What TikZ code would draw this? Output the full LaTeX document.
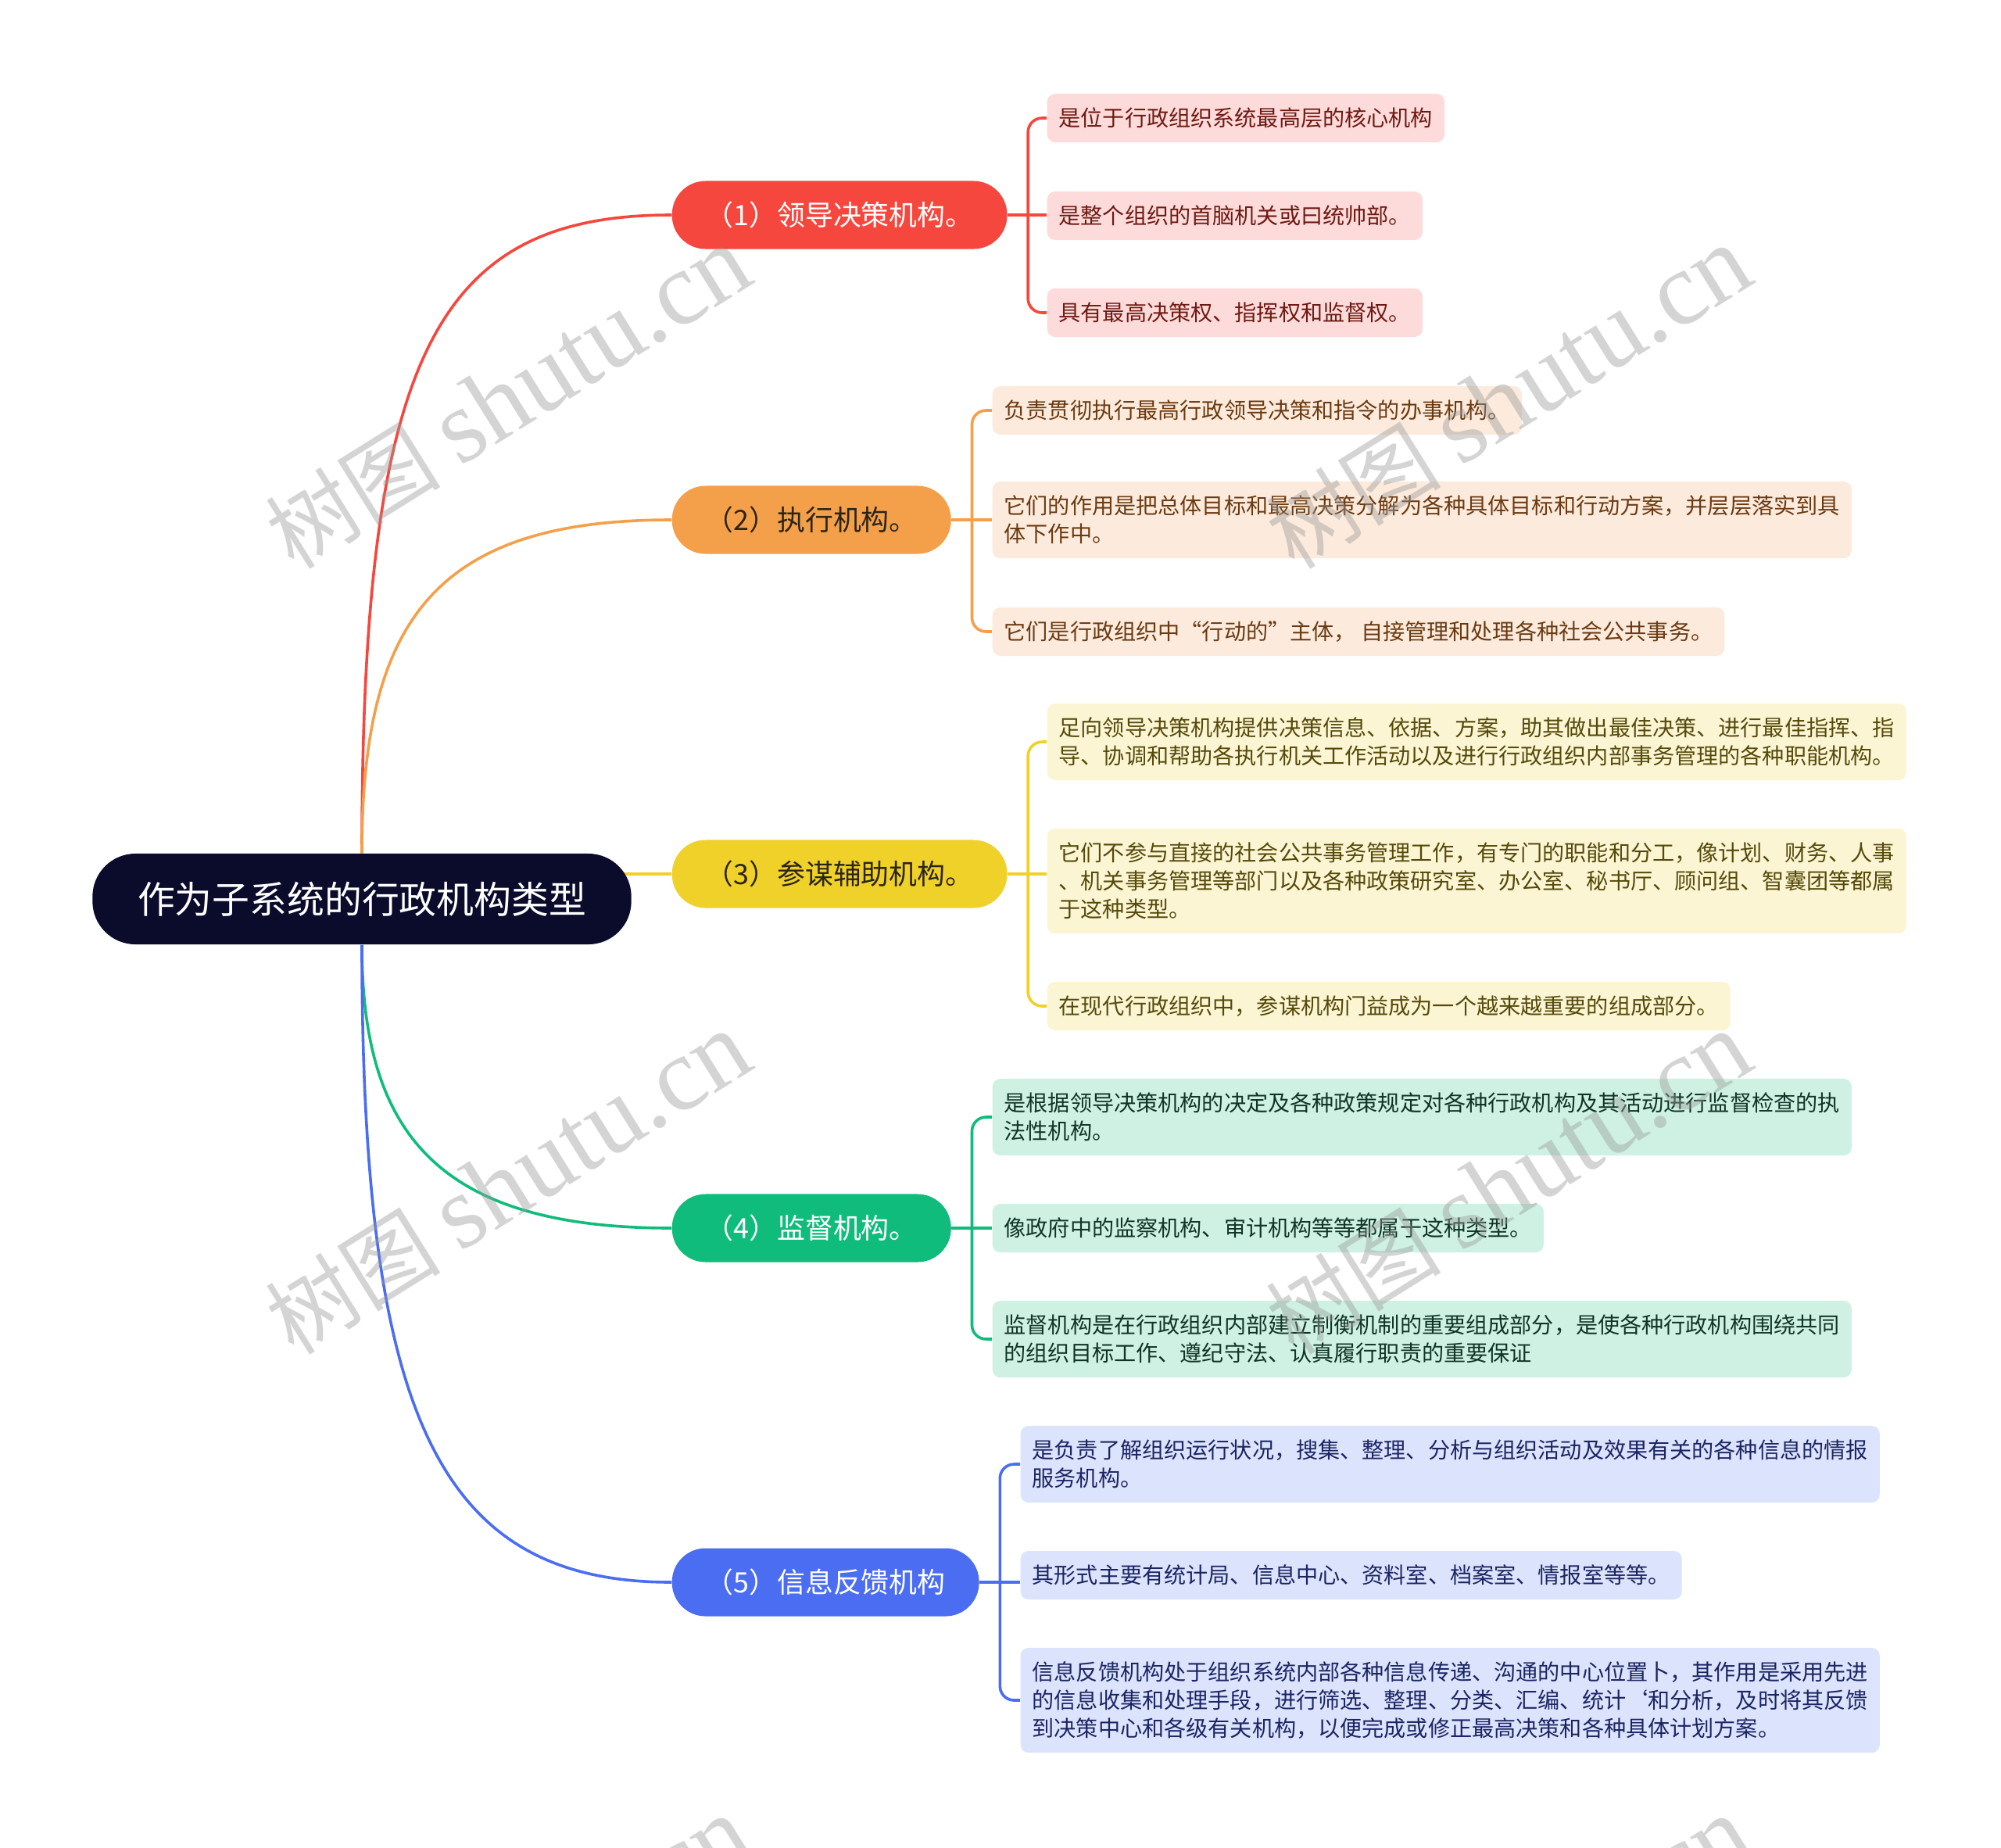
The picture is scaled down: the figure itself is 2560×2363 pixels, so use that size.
\documentclass[tikz,border=0pt]{standalone}
\usepackage{fontspec}
\setmainfont{Noto Sans CJK SC}
\newfontfamily\wmserif{Liberation Serif}
\usepackage{tikz}
\usetikzlibrary{backgrounds,calc}

\definecolor{rootnavy}{HTML}{0B0B2C}
\definecolor{redB}{HTML}{F5473E}
\definecolor{orangeB}{HTML}{F4A04B}
\definecolor{yellowB}{HTML}{F0D12A}
\definecolor{greenB}{HTML}{10BC7B}
\definecolor{blueB}{HTML}{4B6DF2}
\definecolor{redL}{HTML}{FDDBDA}
\definecolor{orangeL}{HTML}{FCEBDC}
\definecolor{yellowL}{HTML}{FBF5D4}
\definecolor{greenL}{HTML}{CEF1E3}
\definecolor{blueL}{HTML}{DCE3FC}
\definecolor{redT}{HTML}{6E1A12}
\definecolor{orangeT}{HTML}{6B3A12}
\definecolor{yellowT}{HTML}{564A0A}
\definecolor{greenT}{HTML}{103427}
\definecolor{blueT}{HTML}{1B2563}
\definecolor{darkT}{HTML}{2A2516}

\begin{document}
\begin{tikzpicture}[x=0.01cm, y=-0.01cm,
    conn/.style={line width=0.036cm},
    rootbox/.style={fill=rootnavy, text=white, rounded corners=0.55cm,
        minimum width=6.89cm, minimum height=1.16cm, inner sep=0pt,
        font=\fontsize{13.6}{16}\selectfont},
    branch/.style 2 args={fill=#1, text=#2, anchor=west, rounded corners=0.43cm,
        minimum height=0.87cm, inner xsep=0.43cm, inner ysep=0pt,
        font=\fontsize{10.2}{12}\selectfont},
    leaf/.style 2 args={fill=#1, text=#2, anchor=west, rounded corners=0.1cm,
        minimum height=0.62cm, inner xsep=0.15cm, inner ysep=0.08cm, align=left,
        font=\fontsize{8}{10.24}\selectfont},
    wm/.style={text=black!40, opacity=0.42, rotate=32,
        font=\fontsize{32}{38}\selectfont}]

    \useasboundingbox (0,0) rectangle (2560,2363);

    % Root
    \node[rootbox] (root) at (463,1150) {作为子系统的行政机构类型};

    % Branches
    \node[branch={redB}{white}] (b1) at (859,275) {（1）领导决策机构。};
    \node[branch={orangeB}{darkT}] (b2) at (859,665) {（2）执行机构。};
    \node[branch={yellowB}{darkT}] (b3) at (859,1118) {（3）参谋辅助机构。};
    \node[branch={greenB}{white}] (b4) at (859,1571) {（4）监督机构。};
    \node[branch={blueB}{white}] (b5) at (859,2024) {（5）信息反馈机构};

    % Leaves of (1)
    \node[leaf={redL}{redT}] (l1a) at (1339,151) {是位于行政组织系统最高层的核心机构};
    \node[leaf={redL}{redT}] (l1b) at (1339,276) {是整个组织的首脑机关或曰统帅部。};
    \node[leaf={redL}{redT}] (l1c) at (1339,400) {具有最高决策权、指挥权和监督权。};

    % Leaves of (2)
    \node[leaf={orangeL}{orangeT}] (l2a) at (1269,525) {负责贯彻执行最高行政领导决策和指令的办事机构。};
    \node[leaf={orangeL}{orangeT}, minimum height=0.98cm] (l2b) at (1269,665)
        {它们的作用是把总体目标和最高决策分解为各种具体目标和行动方案，并层层落实到具\\体下作中。};
    \node[leaf={orangeL}{orangeT}] (l2c) at (1269,808) {它们是行政组织中“行动的”主体，\ 自接管理和处理各种社会公共事务。};

    % Leaves of (3)
    \node[leaf={yellowL}{yellowT}, minimum height=0.98cm] (l3a) at (1339,949)
        {足向领导决策机构提供决策信息、依据、方案，助其做出最佳决策、进行最佳指挥、指\\导、协调和帮助各执行机关工作活动以及进行行政组织内部事务管理的各种职能机构。};
    \node[leaf={yellowL}{yellowT}, minimum height=1.34cm] (l3b) at (1339,1127)
        {它们不参与直接的社会公共事务管理工作，有专门的职能和分工，像计划、财务、人事\\、机关事务管理等部门以及各种政策研究室、办公室、秘书厅、顾问组、智囊团等都属\\于这种类型。};
    \node[leaf={yellowL}{yellowT}] (l3c) at (1339,1287) {在现代行政组织中，参谋机构门益成为一个越来越重要的组成部分。};

    % Leaves of (4)
    \node[leaf={greenL}{greenT}, minimum height=0.98cm] (l4a) at (1269,1429)
        {是根据领导决策机构的决定及各种政策规定对各种行政机构及其活动进行监督检查的执\\法性机构。};
    \node[leaf={greenL}{greenT}] (l4b) at (1269,1571) {像政府中的监察机构、审计机构等等都属于这种类型。};
    \node[leaf={greenL}{greenT}, minimum height=0.98cm] (l4c) at (1269,1713)
        {监督机构是在行政组织内部建立制衡机制的重要组成部分，是使各种行政机构围绕共同\\的组织目标工作、遵纪守法、认真履行职责的重要保证};

    % Leaves of (5)
    \node[leaf={blueL}{blueT}, minimum height=0.98cm] (l5a) at (1305,1873)
        {是负责了解组织运行状况，搜集、整理、分析与组织活动及效果有关的各种信息的情报\\服务机构。};
    \node[leaf={blueL}{blueT}] (l5b) at (1305,2015) {其形式主要有统计局、信息中心、资料室、档案室、情报室等等。};
    \node[leaf={blueL}{blueT}, minimum height=1.34cm] (l5c) at (1305,2175)
        {信息反馈机构处于组织系统内部各种信息传递、沟通的中心位置卜，其作用是采用先进\\的信息收集和处理手段，进行筛选、整理、分类、汇编、统计‘和分析，及时将其反馈\\到决策中心和各级有关机构，以便完成或修正最高决策和各种具体计划方案。};

    \begin{scope}[on background layer]
    \begin{scope}[conn]
        % Root to branches
        \draw[redB] (root.north) .. controls +(0,-640) and +(-300,0) .. (b1.west);
        \draw[orangeB] (root.north) .. controls +(0,-300) and +(-300,0) .. (b2.west);
        \draw[yellowB] (root.center |- b3.west) -- (b3.west);
        \draw[greenB] (root.south) .. controls +(0,240) and +(-300,0) .. (b4.west);
        \draw[blueB] (root.south) .. controls +(0,600) and +(-300,0) .. (b5.west);

        % Branches to leaves
        \draw[redB] (b1.east) -- (b1.east -| l1b.west);
        \draw[redB, rounded corners=0.18cm] ($(b1.east)+(26,0)$) coordinate (s1) |- (l1a.west);
        \draw[redB, rounded corners=0.18cm] (s1) |- (l1c.west);

        \draw[orangeB] (b2.east) -- (b2.east -| l2b.west);
        \draw[orangeB, rounded corners=0.18cm] ($(b2.east)+(26,0)$) coordinate (s2) |- (l2a.west);
        \draw[orangeB, rounded corners=0.18cm] (s2) |- (l2c.west);

        \draw[yellowB] (b3.east) -- (b3.east -| l3b.west);
        \draw[yellowB, rounded corners=0.18cm] ($(b3.east)+(26,0)$) coordinate (s3) |- (l3a.west);
        \draw[yellowB, rounded corners=0.18cm] (s3) |- (l3c.west);

        \draw[greenB] (b4.east) -- (b4.east -| l4b.west);
        \draw[greenB, rounded corners=0.18cm] ($(b4.east)+(26,0)$) coordinate (s4) |- (l4a.west);
        \draw[greenB, rounded corners=0.18cm] (s4) |- (l4c.west);

        \draw[blueB] (b5.east) -- (b5.east -| l5b.west);
        \draw[blueB, rounded corners=0.18cm] ($(b5.east)+(26,0)$) coordinate (s5) |- (l5a.west);
        \draw[blueB, rounded corners=0.18cm] (s5) |- (l5c.west);
    \end{scope}
    \end{scope}

    % Watermarks
    \foreach \wx in {650,1930}
        \foreach \wy in {509,1514,2518}
            \node[wm] at (\wx,\wy) {树图 {\wmserif\fontsize{38}{42}\selectfont shutu.cn}};

\end{tikzpicture}
\end{document}
